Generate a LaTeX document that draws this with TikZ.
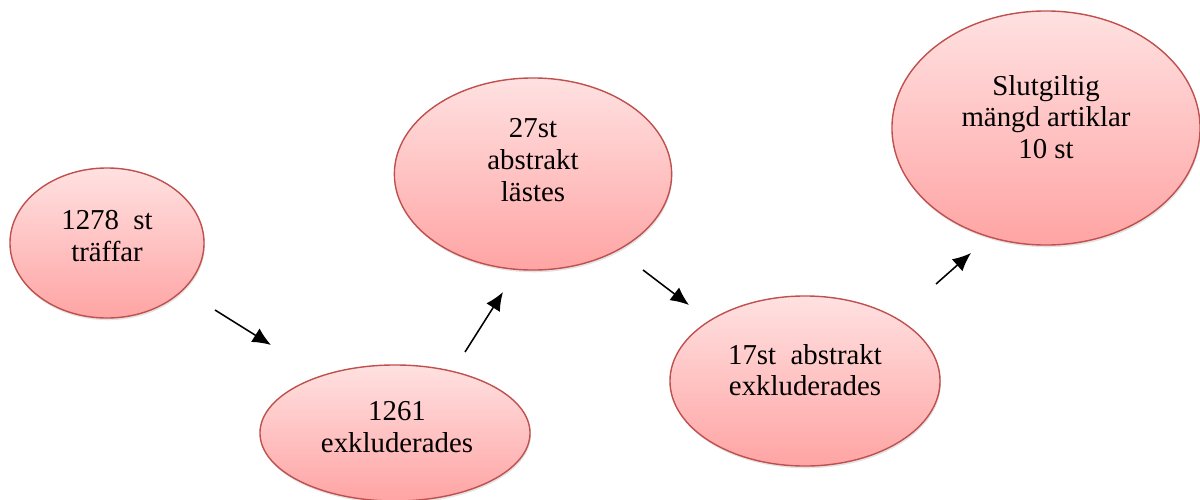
\documentclass[tikz,border=0pt]{standalone}
\usepackage{fontspec}
\setmainfont{Liberation Serif}
\usetikzlibrary{arrows.meta,positioning,calc,shapes.geometric,shadows}
\definecolor{rim}{HTML}{C0504D}
\definecolor{pinktop}{HTML}{FFE1E1}
\definecolor{pinkbot}{HTML}{FFA4A4}

\begin{document}
\begin{tikzpicture}[
  x=0.025cm, y=-0.025cm,
  every node/.style={font=\fontsize{20.5}{22.5}\selectfont},
  bubble/.style={
    ellipse, draw=rim, line width=1pt, inner sep=0pt,
    top color=pinktop, bottom color=pinkbot,
    drop shadow={opacity=0.22, shadow xshift=0.6pt, shadow yshift=-1.6pt}
  },
  txt/.style={align=center, inner sep=0pt},
  flow/.style={-{Latex[length=4.6mm, width=4mm]}, line width=1.1pt, draw=black}
]
  \useasboundingbox (0,0) rectangle (1200,499);

  % Ellipses
  \node[bubble, minimum width=4.85cm, minimum height=3.75cm] (hits) at (107,243) {};
  \node[bubble, minimum width=6.75cm, minimum height=3.4cm]  (excl) at (395,433) {};
  \node[bubble, minimum width=6.93cm, minimum height=4.8cm]  (read) at (533,174) {};
  \node[bubble, minimum width=6.75cm, minimum height=4.25cm] (absexcl) at (805,381) {};
  \node[bubble, minimum width=7.7cm, minimum height=5.85cm]  (final) at (1046,128) {};

  % Texts
  \node[txt] (hitstxt) at (107,236) {1278\ \ st\\träffar};
  \node[txt] (excltxt) at (397,427) {1261\\exkluderades};
  \node[txt] (readtxt) at (533,160) {27st\\abstrakt\\lästes};
  \node[txt] (absexcltxt) at (805,370) {17st\ \ abstrakt\\exkluderades};
  \node[txt] (finaltxt) at (1046,117) {Slutgiltig\\mängd artiklar\\10 st};

  % Arrows
  \coordinate (a1s) at (215,310);
  \coordinate (a1e) at (271,345);
  \coordinate (a2s) at (465,352);
  \coordinate (a2e) at (503,292);
  \coordinate (a3s) at (643,270);
  \coordinate (a3e) at (689,305);
  \coordinate (a4s) at (936,284);
  \coordinate (a4e) at (971,253);

  \draw[flow] (a1s) -- (a1e);
  \draw[flow] (a2s) -- (a2e);
  \draw[flow] (a3s) -- (a3e);
  \draw[flow] (a4s) -- (a4e);
\end{tikzpicture}
\end{document}
